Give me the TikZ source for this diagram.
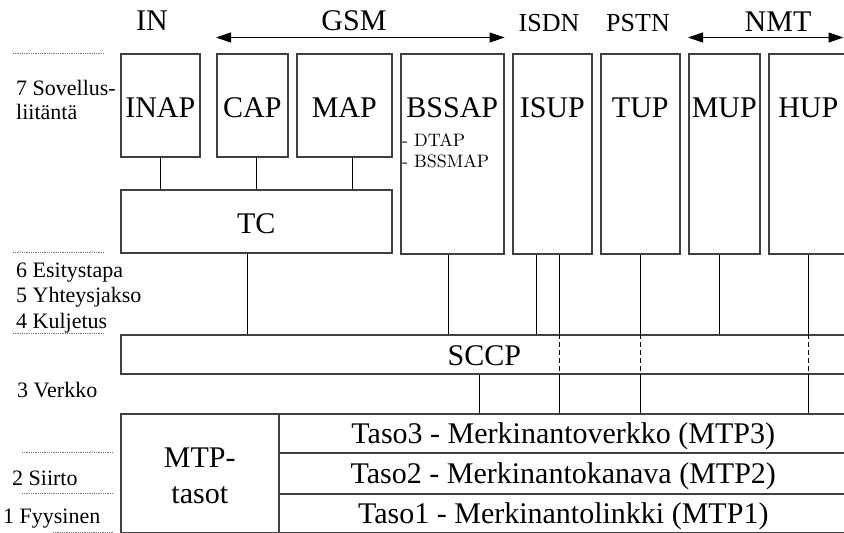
\documentclass[tikz,border=0pt]{standalone}
\usepackage{fontspec}
\usepackage{graphicx}
\setmainfont{Liberation Serif}
\newfontfamily\lmfont{Latin Modern Roman}
\usetikzlibrary{arrows.meta}

% yksi fonttikoko, tekstit skaalataan
\newcommand{\skaala}[2]{\scalebox{#1}{#2}}

\tikzset{
    box/.style={draw=black!75, line width=1.6pt, inner sep=0pt, anchor=north west},
    proto/.style={box, text height=64pt},
    layer/.style={box, minimum width=569pt},
    link/.style={line width=1pt, black},
    lvl/.style={anchor=base west, inner sep=0pt},
    net/.style={anchor=base, inner sep=0pt},
    rule/.style={black!55, line width=0.9pt, dash pattern=on 0.9pt off 0.9pt},
}

\begin{document}
\begin{tikzpicture}[x=1pt, y=-1pt, >={Triangle[length=15pt, width=10pt]}]
    % 1. Kehys
    \useasboundingbox (0,0) rectangle (844,533);
    \clip (0,0) rectangle (844,533);

    % 2. Verkot ylhaalla
    \node[net] (in) at (152,30) {\skaala{3}{IN}};
    \node[net] (gsm) at (354,30) {\skaala{3}{GSM}};
    \node[net] (isdn) at (549,31) {\skaala{2.6}{ISDN}};
    \node[net] (pstn) at (638,31) {\skaala{2.6}{PSTN}};
    \node[net] (nmt) at (778,31) {\skaala{3}{NMT}};

    % 3. Sovelluskerroksen laatikot
    \node[proto, minimum width=79pt, text depth=39pt] (inap) at (120,53) {\skaala{3}{INAP}};
    \node[proto, minimum width=71pt, text depth=39pt] (cap) at (216,53) {\skaala{3}{CAP}};
    \node[proto, minimum width=95pt, text depth=39pt] (map) at (296,53) {\skaala{3}{MAP}};
    \node[proto, minimum width=103pt, text depth=136pt] (bssap) at (400,53) {\skaala{3}{BSSAP}};
    \node[lvl] (dtap) at (402,146) {\lmfont\skaala{1.8}{- DTAP}};
    \node[lvl] (bssmap) at (402,167) {\lmfont\skaala{1.8}{- BSSMAP}};
    \node[proto, minimum width=79pt, text depth=136pt] (isup) at (512,53) {\skaala{3}{ISUP}};
    \node[proto, minimum width=79pt, text depth=136pt] (tup) at (600,53) {\skaala{3}{TUP}};
    \node[proto, minimum width=71pt, text depth=136pt] (mup) at (688,53) {\skaala{3}{MUP}};
    \node[proto, minimum width=79pt, text depth=136pt] (hup) at (768,53) {\skaala{3}{HUP}};
    \node[proto, minimum width=271pt, text height=44pt, text depth=19pt] (tc) at (120,189) {\skaala{3}{TC}};

    % 4. SCCP ja MTP-tasot
    \node[proto, minimum width=727pt, text height=31pt, text depth=8pt] (sccp) at (120,334) {\skaala{3}{SCCP}};
    \node[box, minimum width=158pt, text height=54pt, text depth=65pt] (mtp) at (120,413)
        {\skaala{3}{\def\arraystretch{1}\begin{tabular}[t]{@{}c@{}}MTP-\\tasot\end{tabular}}};
    \node[layer, text height=30pt, text depth=9pt] (mtp3) at (278,413) {\skaala{3}{Taso3 - Merkinantoverkko (MTP3)}};
    \node[layer, text height=31pt, text depth=10pt] (mtp2) at (278,452) {\skaala{3}{Taso2 - Merkinantokanava (MTP2)}};
    \node[layer, text height=30pt, text depth=9pt] (mtp1) at (278,493) {\skaala{3}{Taso1 - Merkinantolinkki (MTP1)}};

    % 5. Nuolet verkkojen alla
    \coordinate (nmtend) at (843.5,37.5);
    \draw[link, <->] ([yshift=15.5]cap.north west) -- ([yshift=15.5]bssap.north east);
    \draw[link, <->] ([yshift=15.5]mup.north west) -- (nmtend);

    % 6. Yhteydet TC:hen
    \draw[link] (inap.south) -- (inap.south |- tc.north);
    \draw[link] ([xshift=4.5]cap.south) -- ([xshift=4.5]cap.south |- tc.north);
    \draw[link] ([xshift=8.5]map.south) -- ([xshift=8.5]map.south |- tc.north);

    % 7. Yhteydet SCCP:hen
    \draw[link] ([xshift=-8.5]tc.south) -- ([xshift=-8.5]tc.south |- sccp.north);
    \draw[link] ([xshift=-3.5]bssap.south) -- ([xshift=-3.5]bssap.south |- sccp.north);
    \draw[link] ([xshift=-15.5]isup.south) -- ([xshift=-15.5]isup.south |- sccp.north);
    \draw[link] ([xshift=-4.5]mup.south) -- ([xshift=-4.5]mup.south |- sccp.north);
    \draw[link] ([xshift=-4.5]sccp.south) -- ([xshift=-4.5]sccp.south |- mtp3.north);

    % 8. SCCP:n ohi MTP3:een (katkoviiva SCCP:n kohdalla)
    \foreach \p/\dx in {isup/7.5, tup/0, hup/0.5} {
        \draw[link] ([xshift=\dx]\p.south) -- ([xshift=\dx]\p.south |- sccp.north);
        \draw[link, dash pattern=on 5pt off 3pt] ([xshift=\dx]\p.south |- sccp.north)
            -- ([xshift=\dx]\p.south |- sccp.south);
        \draw[link] ([xshift=\dx]\p.south |- sccp.south) -- ([xshift=\dx]\p.south |- mtp3.north);
    }

    % 9. OSI-kerrokset vasemmalla
    \node[lvl] (l7) at (16,95.5) {\skaala{2.2}{7 Sovellus-}};
    \node[lvl] (l7b) at (16,119) {\skaala{2.2}{liitäntä}};
    \node[lvl] (l6) at (16,277) {\skaala{2.2}{6 Esitystapa}};
    \node[lvl] (l5) at (16,302) {\skaala{2.2}{5 Yhteysjakso}};
    \node[lvl] (l4) at (16,328) {\skaala{2.2}{4 Kuljetus}};
    \node[lvl] (l3) at (17,397) {\skaala{2.2}{3 Verkko}};
    \node[lvl] (l2) at (12,485) {\skaala{2.2}{2 Siirto}};
    \node[lvl] (l1) at (3,523) {\skaala{2.2}{1 Fyysinen}};

    % 10. Pisteviivat
    \draw[rule] (13,53) -- (104,53);
    \draw[rule] (13,252) -- (104,252);
    \draw[rule] (13,333) -- (104,333);
    \draw[rule] (22,452) -- (113,452);
    \draw[rule] (22,493) -- (113,493);
    \draw[rule] (53,532) -- (113,532);
\end{tikzpicture}
\end{document}
